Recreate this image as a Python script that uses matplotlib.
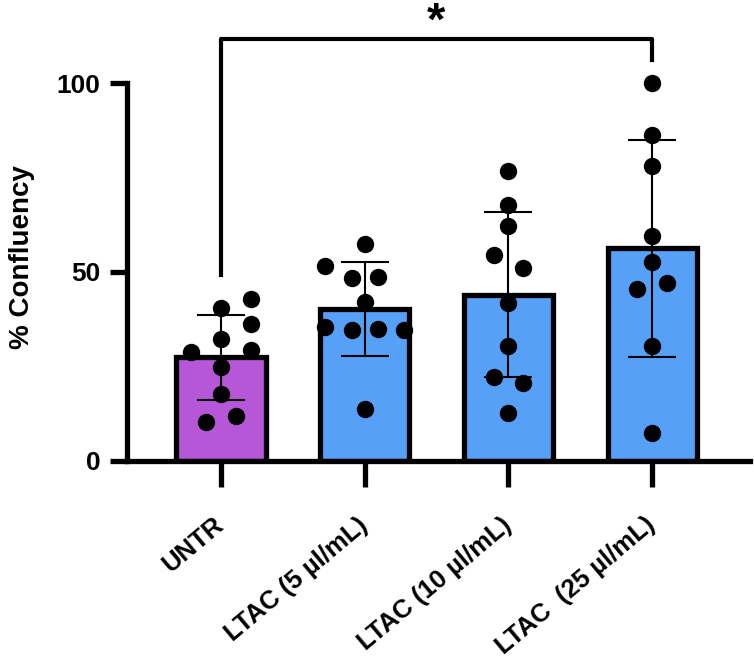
import numpy as np
from matplotlib import pyplot as plt

plt.rcParams['font.family'] = ['Liberation Sans', 'DejaVu Sans']
plt.rcParams['font.weight'] = 'bold'

groups = ['UNTR', 'LTAC (5 µl/mL)', 'LTAC (10 µl/mL)', 'LTAC  (25 µl/mL)']
bar_colors = ['#B657D8', '#56A0F8', '#56A0F8', '#56A0F8']

# % confluency per well
untr = [28.9, 40.4, 42.8, 36.2, 32.2, 29.4, 24.8, 17.6, 10.4, 11.9]
ltac5 = [57.4, 51.6, 48.3, 48.8, 42.1, 35.5, 34.7, 34.8, 34.7, 13.8]
ltac10 = [76.7, 67.8, 62.2, 54.5, 51.0, 41.7, 30.5, 22.3, 20.6, 12.8]
ltac25 = [100.0, 86.3, 78.1, 59.6, 52.6, 45.4, 47.0, 30.5, 7.3]
values = [untr, ltac5, ltac10, ltac25]

# horizontal scatter of dots (in bar units), just for layout
jitter = [
    [-0.21, 0, 0.21, 0.21, 0, 0.21, 0, 0, -0.105, 0.105],
    [0, -0.275, -0.09, 0.09, 0, -0.275, -0.09, 0.09, 0.275, 0],
    [0, 0, 0, -0.1, 0.1, 0, 0, -0.1, 0.1, 0],
    [0, 0, 0, 0, 0, -0.105, 0.105, 0, 0],
]

means = [np.mean(v) for v in values]
sds = [np.std(v, ddof=1) for v in values]
x = np.arange(len(groups))

fig = plt.figure(figsize=(7.54, 6.68), dpi=100)
ax = fig.add_axes([0.1684, 0.3099, 0.826, 0.679])

ax.bar(x, means, width=0.62, color=bar_colors, edgecolor='black', linewidth=3.8, zorder=1)
ax.errorbar(x, means, yerr=sds, fmt='none', ecolor='black', elinewidth=1.5,
            capsize=17, capthick=1.5, zorder=2)
for i in range(len(groups)):
    ax.plot(x[i] + np.array(jitter[i]), values[i], 'o', color='black',
            markersize=11.5, zorder=3, clip_on=False)

# significance bracket UNTR vs 25 µl/mL
ax.plot([0, 0, 3, 3], [49.2, 111.6, 111.6, 106], color='black', lw=3, clip_on=False)
ax.text(1.5, 112.9, '*', fontsize=34, fontweight='bold', ha='center', va='baseline')

ax.set_xlim(-0.654, 3.68)
ax.set_ylim(0, 120)
ax.spines['left'].set_bounds(0, 100)
ax.spines['top'].set_visible(False)
ax.spines['right'].set_visible(False)
for s in ['left', 'bottom']:
    ax.spines[s].set_linewidth(3.8)

ax.set_yticks([0, 50, 100])
ax.tick_params(axis='y', length=12, width=3.8, labelsize=19, pad=7)
ax.set_xticks(x)
ax.set_xticklabels(groups, rotation=40, ha='right', va='center', rotation_mode='anchor')
ax.tick_params(axis='x', length=19, width=3.8, labelsize=18.5, pad=25)

ax.set_ylabel('% Confluency', fontsize=20, fontweight='bold')
ax.yaxis.set_label_coords(-0.147, 0.449)

plt.savefig('out.png', dpi=100)
